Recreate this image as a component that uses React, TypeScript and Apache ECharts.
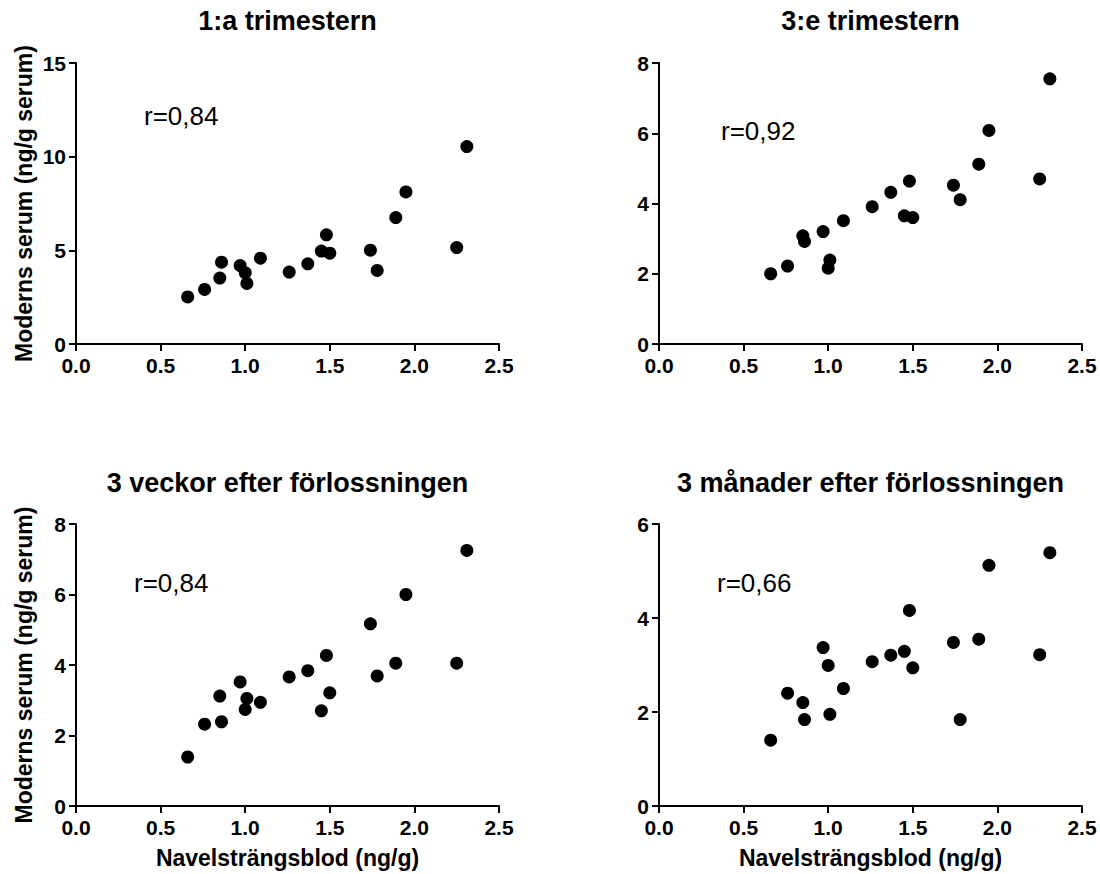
import React, { useEffect, useRef } from "react";
import * as echarts from "echarts";

// Cord blood (x) shared by all panels
const cordBlood = [0.66, 0.76, 0.85, 0.86, 0.97, 1.0, 1.01, 1.09, 1.26, 1.37, 1.45, 1.48, 1.5, 1.74, 1.78, 1.89, 1.95, 2.25, 2.31];

// Maternal serum per period
const trim1 = [2.51, 2.91, 3.52, 4.37, 4.19, 3.8, 3.23, 4.58, 3.84, 4.28, 4.96, 5.83, 4.85, 5.01, 3.93, 6.75, 8.12, 5.15, 10.54];
const trim3 = [2.0, 2.22, 3.08, 2.92, 3.2, 2.16, 2.39, 3.51, 3.91, 4.32, 3.65, 4.64, 3.6, 4.52, 4.11, 5.12, 6.08, 4.7, 7.55];
const weeks3 = [1.39, 2.32, 3.12, 2.39, 3.52, 2.74, 3.05, 2.94, 3.66, 3.84, 2.7, 4.27, 3.21, 5.17, 3.69, 4.05, 6.0, 4.05, 7.25];
const months3 = [1.4, 2.4, 2.2, 1.84, 3.37, 2.99, 1.95, 2.5, 3.07, 3.21, 3.29, 4.16, 2.94, 3.48, 1.84, 3.55, 5.12, 3.22, 5.39];

const panelTitles = ["1:a trimestern", "3:e trimestern", "3 veckor efter förlossningen", "3 månader efter förlossningen"];
const rLabels = ["r=0,84", "r=0,92", "r=0,84", "r=0,66"];
const yMaxes = [15, 8, 8, 6];
const yIntervals = [5, 2, 2, 2];
const xTicks = { min: 0, max: 2.5, interval: 0.5 };
const yName = "Moderns serum (ng/g serum)";
const xName = "Navelsträngsblod (ng/g)";

const FONT = '"Liberation Sans", Arial, Helvetica, sans-serif';

export default function App() {
  const ref = useRef<HTMLDivElement>(null);
  useEffect(() => {
    if (!ref.current) return;
    const chart = echarts.init(ref.current, undefined, { renderer: "svg" });
    const seriesY = [trim1, trim3, weeks3, months3];
    const grids = [
      { left: 76, top: 63, width: 423, height: 281 },
      { left: 659, top: 63, width: 423, height: 281 },
      { left: 76, top: 524, width: 423, height: 282 },
      { left: 659, top: 524, width: 423, height: 282 },
    ];
    const axisCommon = {
      axisLine: { show: true, lineStyle: { color: "#000", width: 2 } },
      axisTick: { show: true, length: 7, inside: false, lineStyle: { color: "#000", width: 2 } },
      splitLine: { show: false },
      nameTextStyle: { fontSize: 23, fontWeight: "bold", color: "#000", fontFamily: FONT },
    };
    const labelCommon = { fontSize: 21, fontWeight: "bold", color: "#000", fontFamily: FONT };
    const rPos = [
      [144, 115.5],
      [721, 130.5],
      [134, 583],
      [717, 583],
    ];
    const titleY = [21, 21, 482.5, 482.5];
    const graphic: any[] = [];
    grids.forEach((g, i) => {
      graphic.push({
        type: "text",
        x: g.left + g.width / 2,
        y: titleY[i],
        style: {
          text: panelTitles[i],
          fontSize: 27,
          fontWeight: "bold",
          fontFamily: FONT,
          fill: "#000",
          align: "center",
          verticalAlign: "middle",
        },
      });
      graphic.push({
        type: "text",
        x: rPos[i][0],
        y: rPos[i][1],
        style: {
          text: rLabels[i],
          fontSize: 26,
          fontFamily: FONT,
          fill: "#000",
          align: "left",
          verticalAlign: "middle",
        },
      });
    });
    chart.setOption({
      animation: false,
      grid: grids.map((g) => ({ ...g, containLabel: false })),
      xAxis: grids.map((_, i) => ({
        type: "value",
        gridIndex: i,
        min: xTicks.min,
        max: xTicks.max,
        interval: xTicks.interval,
        ...axisCommon,
        axisLabel: { ...labelCommon, margin: 11, formatter: (v: number) => v.toFixed(1) },
        name: i >= 2 ? xName : "",
        nameLocation: "middle",
        nameGap: 40,
      })),
      yAxis: grids.map((_, i) => ({
        type: "value",
        gridIndex: i,
        min: 0,
        max: yMaxes[i],
        interval: yIntervals[i],
        ...axisCommon,
        axisLabel: { ...labelCommon, margin: 10 },
        name: i % 2 === 0 ? yName : "",
        nameLocation: "middle",
        nameGap: 41,
      })),
      series: grids.map((_, i) => ({
        type: "scatter",
        xAxisIndex: i,
        yAxisIndex: i,
        symbol: "circle",
        symbolSize: 13,
        itemStyle: { color: "#000", opacity: 1 },
        data: cordBlood.map((x, j) => [x, seriesY[i][j]]),
      })),
      graphic,
    });
    return () => chart.dispose();
  }, []);
  return (
    <div
      ref={ref}
      style={{ position: "absolute", left: 0, top: 0, width: 1100, height: 874, background: "#fff" }}
    />
  );
}
